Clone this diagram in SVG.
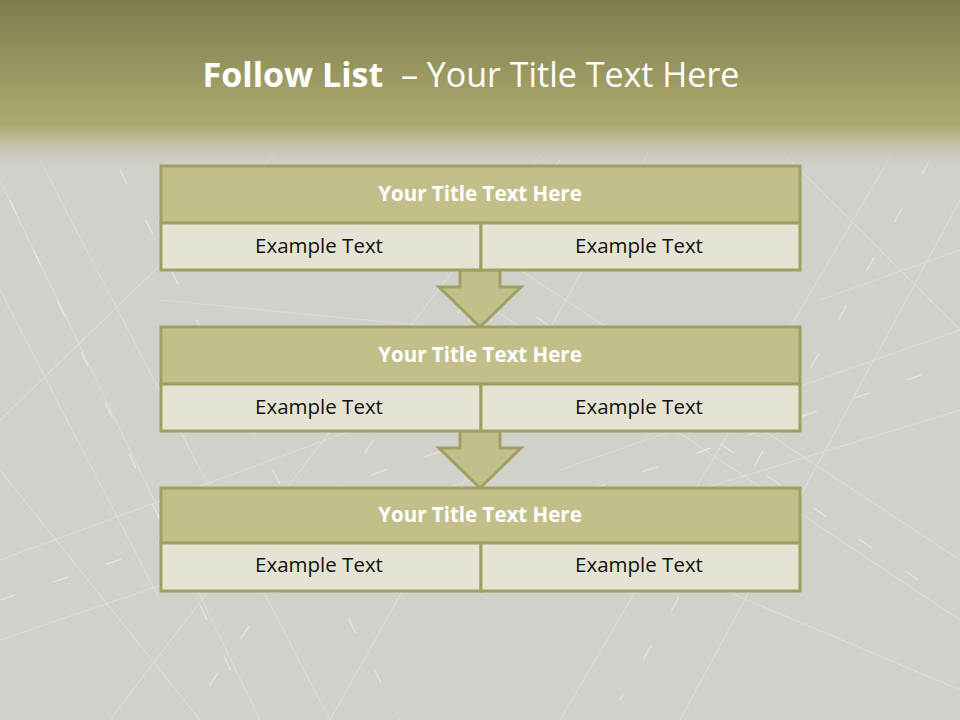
<svg xmlns="http://www.w3.org/2000/svg" width="960" height="720" viewBox="0 0 960 720">
<defs>
<linearGradient id="top" x1="0" y1="0" x2="0" y2="1">
<stop offset="0" stop-color="#7e7c4f"/>
<stop offset="0.45" stop-color="#9c9a62"/>
<stop offset="0.72" stop-color="#adaa71"/>
<stop offset="0.78" stop-color="#b9b78f"/>
<stop offset="1" stop-color="#d0d0cb" stop-opacity="0"/>
</linearGradient>
<style>
.hd{fill:#c2bf8b;stroke:#a19f5f;stroke-width:3}
.cl{fill:#e5e4d4;stroke:#a19f5f;stroke-width:3}
.ar{fill:#c2bf8b;stroke:#a19f5f;stroke-width:3;stroke-linejoin:miter}
.ht{font-family:"Open Sans","Noto Sans",sans-serif;font-weight:bold;font-size:20.5px;fill:#ffffff;text-anchor:middle}
.ct{font-family:"Open Sans","Noto Sans",sans-serif;font-size:20.5px;fill:#111111;text-anchor:middle}
.rd{stroke:#ebebdb;stroke-width:1.2;fill:none;opacity:0.5}
.ds{stroke:#f2f2e6;stroke-width:1.5;fill:none;stroke-dasharray:16 40;opacity:0.6}
</style>
</defs>
<rect width="960" height="720" fill="#d1d1cc"/>
<g id="bg-lines">
<path class="rd" d="M0 180 L260 720 M40 160 L330 720 M0 290 L160 600 M300 130 L0 420 M560 130 L110 720 M650 150 L330 720 M900 140 L560 720 M960 200 L680 720 M480 300 L960 620 M520 270 L960 560 M0 560 L380 420 M0 640 L500 470 M560 470 L960 330 M600 520 L960 410 M700 580 L960 690 M0 470 L200 720 M820 300 L960 250 M160 300 L470 330 M760 130 L960 330"/>
<path class="ds" d="M10 200 L240 690 M120 170 L400 720 M560 160 L200 700 M490 285 L940 595 M0 600 L460 445 M590 490 L950 365 M930 160 L620 700"/>
</g>
<rect width="960" height="175" fill="url(#top)"/>
<g id="title">
<text x="471" y="87" text-anchor="middle" font-family="'Open Sans','Noto Sans',sans-serif" font-size="34" fill="#ffffff" xml:space="preserve"><tspan font-weight="bold">Follow List</tspan>  – Your Title Text Here</text>
</g>
<g id="connectors">
<polygon class="ar" points="460,270 500,270 500,287 521,287 480,327 439,287 460,287"/>
<polygon class="ar" points="460,431 500,431 500,448 521,448 480,488 439,448 460,448"/>
</g>
<g id="block1">
<rect class="hd" x="161" y="166" width="639" height="57"/>
<rect class="cl" x="161" y="223" width="320" height="47"/>
<rect class="cl" x="481" y="223" width="319" height="47"/>
<text class="ht" x="480" y="201">Your Title Text Here</text>
<text class="ct" x="319" y="253">Example Text</text>
<text class="ct" x="639" y="253">Example Text</text>
</g>
<g id="block2">
<rect class="hd" x="161" y="327" width="639" height="57"/>
<rect class="cl" x="161" y="384" width="320" height="47"/>
<rect class="cl" x="481" y="384" width="319" height="47"/>
<text class="ht" x="480" y="362">Your Title Text Here</text>
<text class="ct" x="319" y="414">Example Text</text>
<text class="ct" x="639" y="414">Example Text</text>
</g>
<g id="block3">
<rect class="hd" x="161" y="488" width="639" height="55"/>
<rect class="cl" x="161" y="543" width="320" height="48"/>
<rect class="cl" x="481" y="543" width="319" height="48"/>
<text class="ht" x="480" y="522">Your Title Text Here</text>
<text class="ct" x="319" y="572">Example Text</text>
<text class="ct" x="639" y="572">Example Text</text>
</g>
</svg>
